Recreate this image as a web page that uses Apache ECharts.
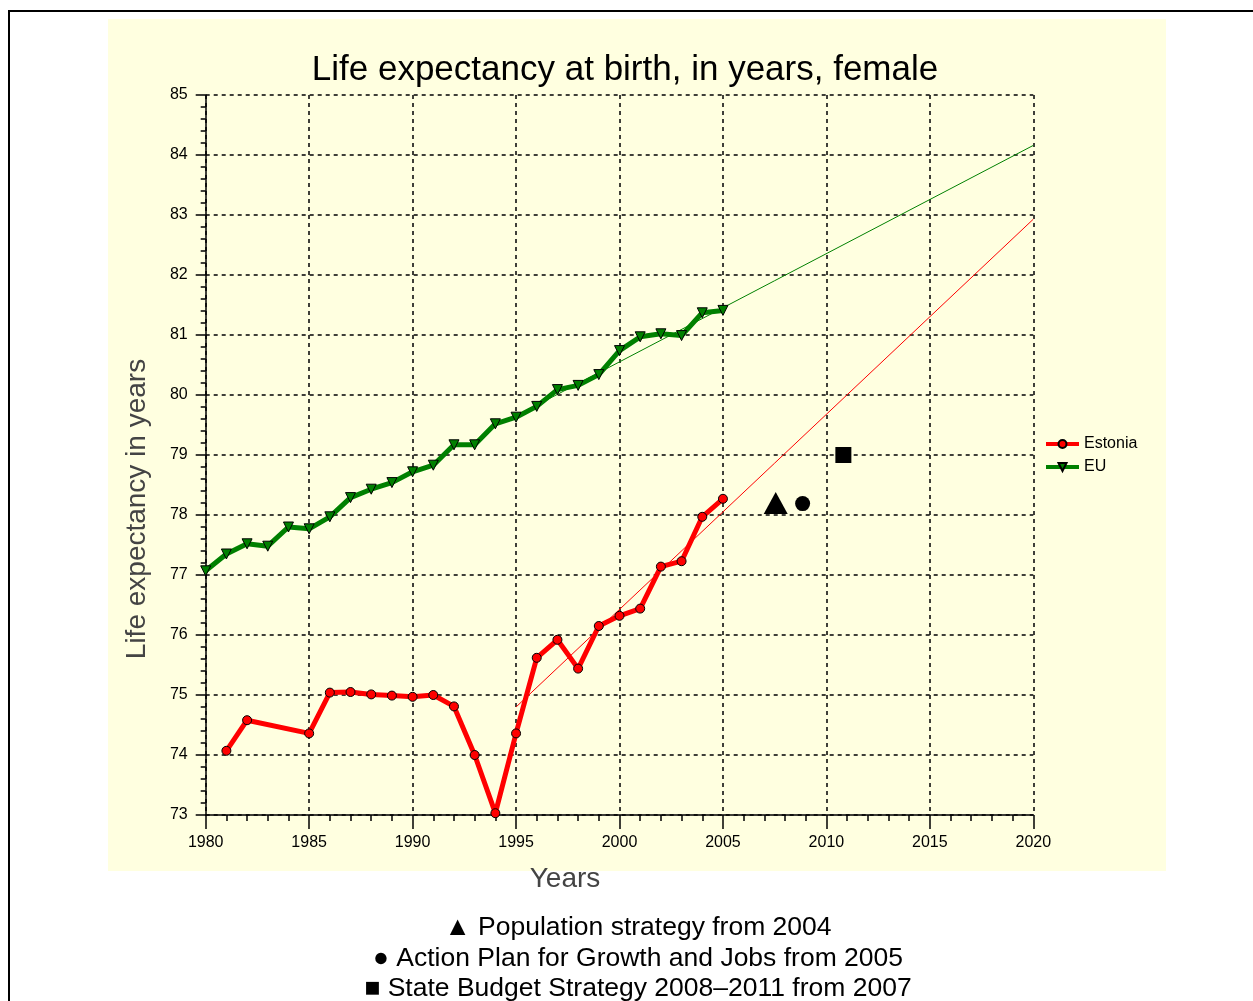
<!DOCTYPE html>
<html>
<head>
<meta charset="utf-8">
<script src="https://cdn.jsdelivr.net/npm/echarts@6/dist/echarts.min.js"></script>
<style>
html,body{margin:0;padding:0;background:#fff;}
#wrap{position:relative;width:1253px;height:1001px;overflow:hidden;}
#border{position:absolute;left:8px;top:10px;width:1300px;height:1100px;border:2px solid #000;box-sizing:border-box;}
#panel{position:absolute;left:108px;top:19px;width:1058px;height:852px;background:#FFFFE0;}
#chart{position:absolute;left:0;top:0;width:1253px;height:1001px;}
</style>
</head>
<body>
<div id="wrap">
<div id="border"></div>
<div id="panel"></div>
<div id="chart"></div>
</div>
<script>
// Data
const euYears = [1980,1981,1982,1983,1984,1985,1986,1987,1988,1989,1990,1991,1992,1993,1994,1995,1996,1997,1998,1999,2000,2001,2002,2003,2004,2005];
const euValues = [77.07,77.35,77.52,77.48,77.80,77.77,77.97,78.29,78.43,78.54,78.72,78.83,79.17,79.17,79.52,79.63,79.81,80.09,80.16,80.34,80.74,80.97,81.02,80.99,81.37,81.41];
const estYears = [1981,1982,1985,1986,1987,1988,1989,1990,1991,1992,1993,1994,1995,1996,1997,1998,1999,2000,2001,2002,2003,2004,2005];
const estValues = [74.07,74.58,74.36,75.04,75.05,75.01,74.99,74.97,75.00,74.81,74.00,73.03,74.36,75.62,75.92,75.44,76.15,76.32,76.44,77.14,77.23,77.97,78.27];
const euTrendYears = [1995,2020];
const euTrendValues = [79.65,84.16];
const estTrendYears = [1995,2020];
const estTrendValues = [74.80,82.93];
const triangleMark = [2007.55,78.2];
const circleMark = [2008.85,78.19];
const squareMark = [2010.82,79.0];
const notes = ['\u25B2 Population strategy from 2004','\u25CF Action Plan for Growth and Jobs from 2005','\u25A0 State Budget Strategy 2008\u20132011 from 2007'];

const zip = (xs, ys) => xs.map((x,i)=>[x, ys[i]]);
const FONT = '"Liberation Sans", Arial, sans-serif';

const chart = echarts.init(document.getElementById('chart'), null, {renderer:'canvas'});
chart.setOption({
  animation:false,
  backgroundColor:'transparent',
  title:{
    text:'Life expectancy at birth, in years, female',
    left:620, top:48, textAlign:'center',
    textStyle:{fontFamily:FONT,fontSize:35,fontWeight:'normal',color:'#000'}
  },
  legend:{
    left:1039, top:431, orient:'vertical',
    itemWidth:33, itemHeight:10, itemGap:7,
    textStyle:{fontFamily:FONT,fontSize:16,color:'#000'},
    data:[
      {name:'Estonia', lineStyle:{width:4}},
      {name:'EU', lineStyle:{width:4}}
    ]
  },
  grid:{left:205.7, right:219.7, top:95, bottom:186, containLabel:false},
  xAxis:{
    type:'value', min:1980, max:2020, interval:5,
    axisLine:{show:true,onZero:false,lineStyle:{color:'#000',width:1.5}},
    axisTick:{show:true,length:14,lineStyle:{color:'#000',width:1.5}},
    minorTick:{show:true,splitNumber:5,length:6,lineStyle:{color:'#000',width:1.5}},
    axisLabel:{fontFamily:FONT,fontSize:16,color:'#000',margin:20,formatter:v=>String(v)},
    splitLine:{show:true,lineStyle:{color:'#111',width:1.6,type:[4,4]}}
  },
  yAxis:{
    type:'value', min:73, max:85, interval:1,
    axisLine:{show:true,onZero:false,lineStyle:{color:'#000',width:1.5}},
    axisTick:{show:true,length:10,lineStyle:{color:'#000',width:1.5}},
    minorTick:{show:true,splitNumber:5,length:5,lineStyle:{color:'#000',width:1.5}},
    axisLabel:{fontFamily:FONT,fontSize:16,color:'#000',margin:18},
    splitLine:{show:true,lineStyle:{color:'#111',width:1.6,type:[4,4]}}
  },
  graphic:[
    {type:'text', x:565, y:879, style:{text:'Years', align:'center', verticalAlign:'middle', font:'28px '+FONT, fill:'#444'}},
    {type:'text', x:137, y:509, rotation:Math.PI/2, style:{text:'Life expectancy in years', align:'center', verticalAlign:'middle', font:'28px '+FONT, fill:'#444'}},
    {type:'text', x:638, y:928, style:{text:notes[0], align:'center', verticalAlign:'middle', font:'26.5px '+FONT, fill:'#000'}},
    {type:'text', x:638, y:959, style:{text:notes[1], align:'center', verticalAlign:'middle', font:'26.5px '+FONT, fill:'#000'}},
    {type:'text', x:638, y:989, style:{text:notes[2], align:'center', verticalAlign:'middle', font:'26.5px '+FONT, fill:'#000'}}
  ],
  series:[
    {name:'EU trend', type:'line', data:zip(euTrendYears, euTrendValues), symbol:'none', lineStyle:{color:'#008000',width:1}, z:1},
    {name:'Estonia trend', type:'line', data:zip(estTrendYears, estTrendValues), symbol:'none', lineStyle:{color:'#FF0000',width:1}, z:1},
    {name:'Estonia', type:'line', data:zip(estYears, estValues), symbol:'circle', symbolSize:9,
      itemStyle:{color:'#FF0000',borderColor:'#000',borderWidth:1},
      lineStyle:{color:'#FF0000',width:5}, z:3},
    {name:'EU', type:'line', data:zip(euYears, euValues), symbol:'triangle', symbolRotate:180, symbolSize:10,
      itemStyle:{color:'#008000',borderColor:'#000',borderWidth:1},
      lineStyle:{color:'#008000',width:5}, z:3},
    {name:'Population strategy', type:'scatter', data:[triangleMark], symbol:'triangle', symbolSize:[24,22], itemStyle:{color:'#000',opacity:1}, z:4},
    {name:'Action Plan', type:'scatter', data:[circleMark], symbol:'circle', symbolSize:15, itemStyle:{color:'#000',opacity:1}, z:4},
    {name:'State Budget', type:'scatter', data:[squareMark], symbol:'rect', symbolSize:16, itemStyle:{color:'#000',opacity:1}, z:4}
  ]
});
</script>
</body>
</html>
